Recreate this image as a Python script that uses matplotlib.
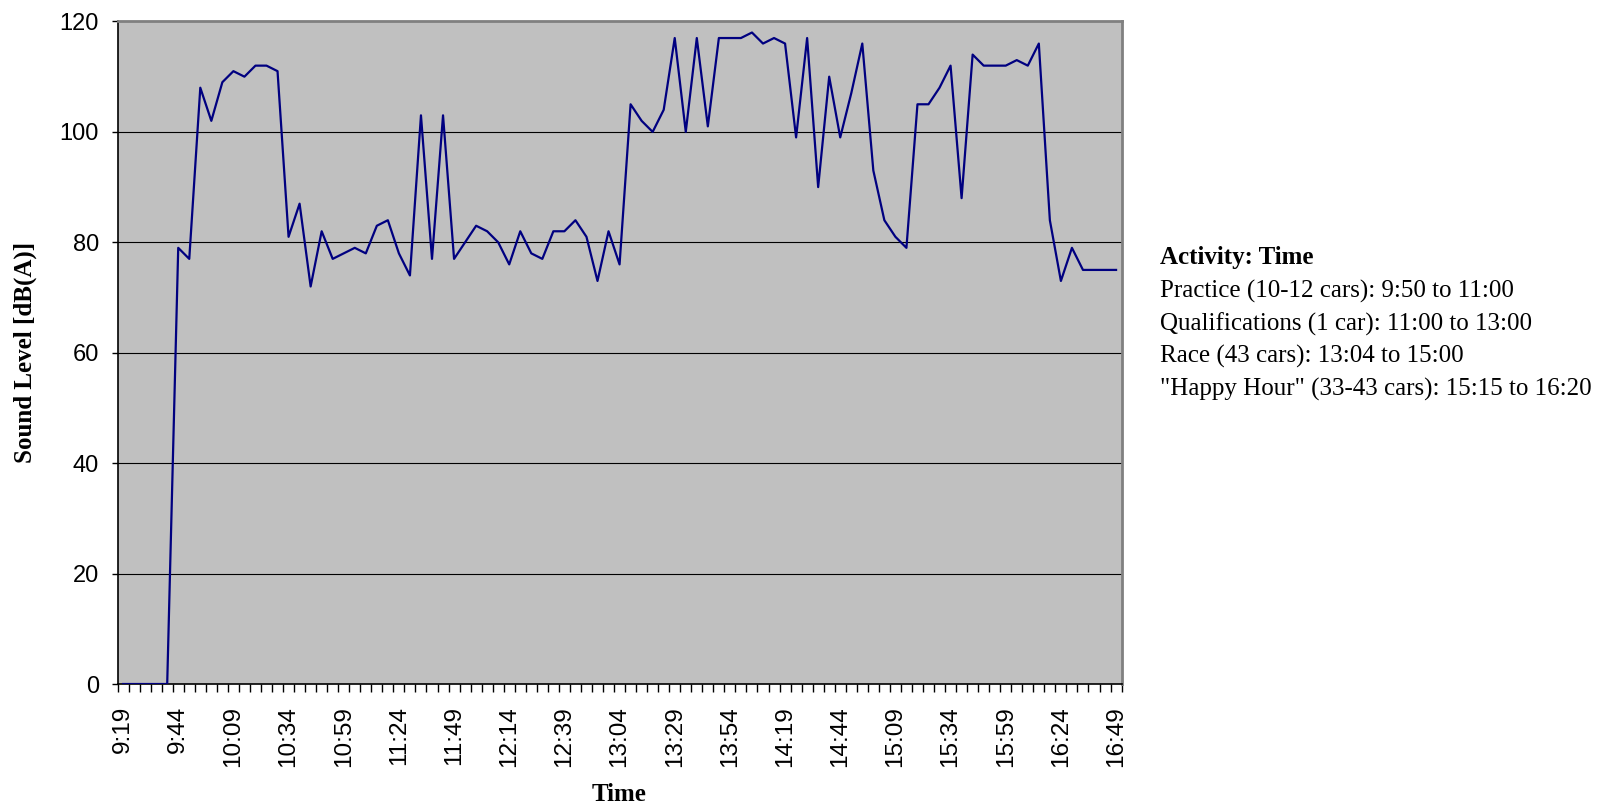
import matplotlib.pyplot as plt
import numpy as np

# 5-minute readings from 9:19 to 16:49
start_min = 9 * 60 + 19
times = [f"{(start_min + 5 * k) // 60}:{(start_min + 5 * k) % 60:02d}" for k in range(91)]

levels = [0, 0, 0, 0, 0,
          79, 77, 108, 102, 109, 111, 110, 112, 112, 111,
          81, 87, 72, 82, 77, 78, 79, 78, 83, 84,
          78, 74, 103, 77, 103, 77, 80, 83, 82, 80,
          76, 82, 78, 77, 82, 82, 84, 81, 73, 82,
          76, 105, 102, 100, 104, 117, 100, 117, 101, 117,
          117, 117, 118, 116, 117, 116, 99, 117, 90, 110,
          99, 107, 116, 93, 84, 81, 79, 105, 105, 108,
          112, 88, 114, 112, 112, 112, 113, 112, 116, 84,
          73, 79, 75, 75, 75, 75]

activity_title = "Activity: Time"
activity_lines = ["Practice (10-12 cars): 9:50 to 11:00",
                  "Qualifications (1 car): 11:00 to 13:00",
                  "Race (43 cars): 13:04 to 15:00",
                  "\"Happy Hour\" (33-43 cars): 15:15 to 16:20"]

sans = 'Liberation Sans'
serif = 'Liberation Serif'

fig = plt.figure(figsize=(16.08, 8.07), dpi=100)
ax = fig.add_axes([0.0731, 0.1524, 0.6244, 0.821])
ax.set_facecolor('#C0C0C0')

x = np.arange(len(levels))
ax.plot(x, levels, color='#000080', linewidth=1.6, zorder=3)

# axes limits, grid
ax.set_xlim(-0.5, len(levels) - 0.5)
ax.set_ylim(0, 120)
ax.set_yticks(np.arange(0, 121, 20))
for v in range(20, 120, 20):
    ax.axhline(v, color='black', linewidth=0.8, zorder=1)

# category axis: labels every 5th reading, tick marks between categories
ax.set_xticks(x[::5])
ax.set_xticklabels(times[::5], rotation=90, fontfamily=sans, fontsize=17.5)
ax.set_xticks(np.arange(-0.5, len(levels)), minor=True)
ax.tick_params(axis='x', which='major', length=0, pad=16)
ax.tick_params(axis='x', which='minor', length=5.5, width=1, direction='out')
ax.tick_params(axis='y', length=4.5, width=1, pad=9)
for lab in ax.get_yticklabels():
    lab.set_fontfamily(sans)
    lab.set_fontsize(17)

for side in ['top', 'right']:
    ax.spines[side].set_color('#808080')
    ax.spines[side].set_linewidth(2)
for side in ['left', 'bottom']:
    ax.spines[side].set_color('black')
    ax.spines[side].set_linewidth(1.2)

ax.set_xlabel('Time', fontfamily=serif, fontweight='bold', fontsize=18, va='center')
ax.xaxis.set_label_coords(0.5, -0.1675)
ax.set_ylabel('Sound Level [dB(A)]', fontfamily=serif, fontweight='bold', fontsize=18, va='center')
ax.yaxis.set_label_coords(-0.0916, 0.5)

# activity schedule text on the right
line_y = [0.681, 0.6392, 0.5985, 0.5579, 0.5172]
fig.text(0.7214, line_y[0], activity_title, fontfamily=serif, fontweight='bold',
         fontsize=18, va='center')
for txt, yy in zip(activity_lines, line_y[1:]):
    fig.text(0.7214, yy, txt, fontfamily=serif, fontsize=18, va='center')

fig.savefig('out.png', dpi=100)
